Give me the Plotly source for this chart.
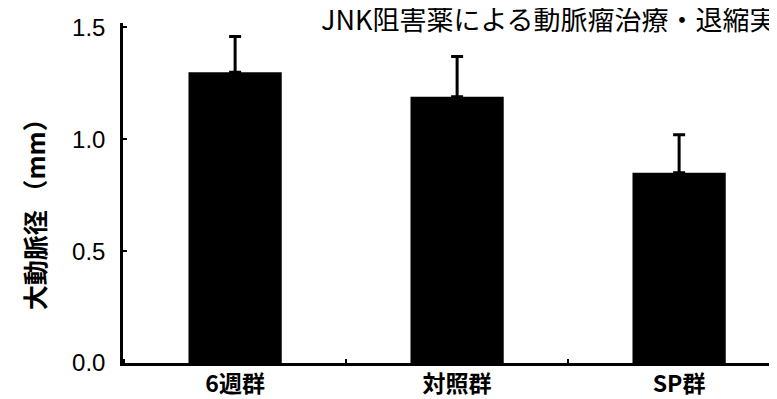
import plotly.graph_objects as go

# ---- data ----
categories = ["6週群", "対照群", "SP群"]
diameters = [1.30, 1.19, 0.85]
errors_up = [0.16, 0.18, 0.17]
y_tickvals = [0.0, 0.5, 1.0, 1.5]
title_text = "JNK阻害薬による動脈瘤治療・退縮実験"
y_title = "大動脈径 （mm）"

CJK = "Noto Sans CJK JP"

fig = go.Figure()
fig.add_trace(go.Bar(
    x=categories,
    y=diameters,
    width=0.42,
    marker=dict(color="black", line=dict(width=0)),
    error_y=dict(type="data", array=errors_up, arrayminus=[0] * len(errors_up),
                 symmetric=False, color="black", thickness=3, width=6),
    showlegend=False,
))

fig.update_layout(
    width=777, height=399,
    margin=dict(l=115, r=0, t=14.5, b=44, pad=0),
    plot_bgcolor="white", paper_bgcolor="white",
    title=dict(text=title_text, xref="container", yref="container",
               x=313 / 777, xanchor="left", y=1 - 13 / 399, yanchor="middle",
               pad=dict(l=0, r=0, t=0, b=0),
               font=dict(family=CJK, size=27, color="black")),
    xaxis=dict(
        type="category", automargin=False,
        range=[-0.505, 2.477],
        showline=True, linecolor="black", linewidth=2.5,
        showgrid=False, zeroline=False,
        tickson="boundaries", ticks="inside", ticklen=4, tickwidth=2, tickcolor="black",
        tickfont=dict(family=CJK, size=23, color="black", weight="bold"),
        ticklabelstandoff=-1,
    ),
    yaxis=dict(
        automargin=False,
        range=[0, 1.52],
        tickvals=y_tickvals, tickformat=".1f",
        showline=True, linecolor="black", linewidth=2.5,
        showgrid=False, zeroline=False,
        ticks="inside", ticklen=4, tickwidth=2, tickcolor="black",
        tickfont=dict(family="Liberation Sans", size=24, color="black"),
        ticklabelstandoff=10,
    ),
    annotations=[dict(
        text=y_title, textangle=-90,
        xref="paper", yref="paper",
        x=(26 - 115) / 662, y=(355 - 200) / 340.5,
        xanchor="center", yanchor="middle", showarrow=False,
        font=dict(family=CJK, size=25, color="black", weight="bold"),
    )],
)

fig.write_html("out.html")
